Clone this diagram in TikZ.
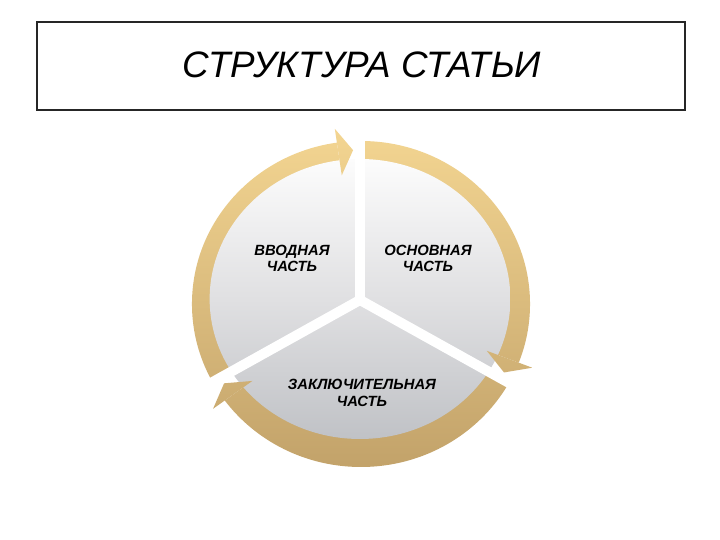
\documentclass[tikz,border=0pt]{standalone}
\usepackage{fontspec}
\setmainfont{Liberation Sans}
\definecolor{ringtop}{RGB}{244,214,146}
\definecolor{ringbot}{RGB}{192,160,104}
\definecolor{pietop}{RGB}{252,252,252}
\definecolor{piemid}{RGB}{224,224,226}
\definecolor{piebot}{RGB}{192,194,198}
\tikzset{
 ringshade/.style={top color=ringtop,bottom color=ringbot},
 pieshade/.style={top color=pietop,bottom color=piebot,middle color=piemid},
 gapline/.style={white,line width=5pt},
 lbl/.style={font=\fontsize{7.4}{8.3}\selectfont\bfseries\itshape,align=center,inner sep=0pt},
}
\begin{document}
\begin{tikzpicture}[x=0.5pt,y=0.5pt]
\useasboundingbox (0,0) rectangle (720,540);
\fill[white] (0,0) rectangle (720,540);
\draw[black!85,line width=0.6pt] (37,430) rectangle (685,518);
\node[font=\fontsize{18.4}{22}\selectfont\itshape,anchor=base,inner sep=0pt] (title) at (362,462) {СТРУКТУРА СТАТЬИ};
\begin{scope}[shift={(361,236)},xscale=1.037]
 \coordinate (C) at (-0.96,4);
 \foreach \a/\b in {98.2/208.5, -21.1/90.35, -143.7/-28.9}{
  \begin{scope}
   \clip (0,0) -- (\a:260) arc[start angle=\a,end angle=\b,radius=260] -- cycle;
   \clip (0,0) circle (163);
   \shade[ringshade] (-180,-180) rectangle (180,180);
  \end{scope}
 }
 \shade[pieshade] (-0.96,5) ellipse [x radius=145, y radius=140];
 \foreach \t/\w in {92.85/98.2, -26.4/-21.1, -149/-143.7}{
  \begin{scope}
   \clip (\t:154) -- (\w:130) -- (\w:177) -- cycle;
   \shade[ringshade] (-180,-180) rectangle (180,180);
  \end{scope}
 }
 \draw[gapline] (C) -- ++(90:176);
 \draw[gapline] (C) -- ++(-30:195);
 \draw[gapline] (C) -- ++(210:195);
\end{scope}
\node[lbl] (intro) at (292,281.5) {ВВОДНАЯ\\ЧАСТЬ};
\node[lbl] (main) at (428,281.5) {ОСНОВНАЯ\\ЧАСТЬ};
\node[lbl] (concl) at (362,147) {ЗАКЛЮЧИТЕЛЬНАЯ\\ЧАСТЬ};
\end{tikzpicture}
\end{document}
